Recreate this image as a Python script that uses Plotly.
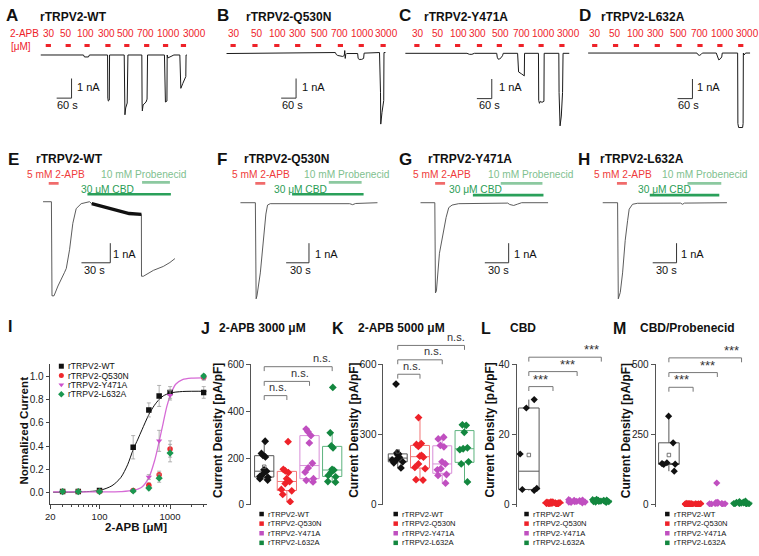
import numpy as np
import plotly.graph_objects as go

W, H = 759, 556
FONT = "Liberation Sans, Arial, sans-serif"

# ------------------------------------------------------------------ data
groups = ["rTRPV2-WT", "rTRPV2-Q530N", "rTRPV2-Y471A", "rTRPV2-L632A"]
conc_labels = ["30", "50", "100", "300", "500", "700", "1000", "3000"]

# A-D : 2-APB concentration series, time (s) / current (nA)
A_t = [24, 196, 200, 216, 220, 293, 294, 296, 300, 301, 360, 361, 363, 366, 372, 375,
       431, 432, 433, 436, 448, 452, 454, 522, 523, 526, 532, 533, 536, 544, 552, 560,
       584, 585, 588, 596, 604, 608, 609, 612]
A_i = [0, 0, -0.1, -0.1, 0, 0, -2.2, -2.35, -2.3, 0, 0, -2.45, -3.05, -2.7, -2.45, 0,
       0, -2.45, -2.85, -2.55, -2.4, -2.25, 0, 0, -2.2, -2.4, -2.35, 0, -0.15, -0.1, -0.05, 0,
       0, -1.45, -1.7, -1.45, -1.25, -1.1, 0, 0]
B_t = [32, 200, 400, 470, 474, 480, 500, 506, 508, 510, 512, 516, 560, 562, 566, 576, 584,
       586, 648, 652, 653, 658, 665, 666, 672]
B_i = [0, 0.03, 0.05, 0.05, -0.05, -0.1, -0.15, -0.1, 0.15, -0.25, -0.05, 0.0, 0.0, -0.25,
       -0.3, -0.3, -0.25, 0.02, 0.05, -2.0, -3.6, -3.0, -2.4, 0.05, 0.05]
C_t = [32, 280, 290, 300, 310, 400, 402, 406, 412, 418, 424, 426, 484, 485, 488, 500, 508,
       511, 512, 568, 569, 572, 576, 582, 590, 591, 650, 651, 655, 660, 665, 667, 692]
C_i = [0, 0, -0.05, -0.05, 0, 0, -0.2, -0.3, -0.28, -0.22, -0.1, 0, 0, -0.9, -0.95, -1.05,
       -1.12, -1.15, 0, 0, -2.4, -2.55, -2.45, -2.5, -2.45, 0, 0, -2.0, -3.7, -3.2, -2.0, 0, 0]
D_t = [28, 466, 470, 476, 482, 488, 544, 548, 554, 560, 566, 568, 630, 631, 634, 650, 652,
       653, 656, 662, 680]
D_i = [0, 0, -0.08, -0.12, -0.08, 0, 0, -0.2, -0.35, -0.3, -0.2, 0, 0, -3.6, -3.8, -3.8,
       -3.6, 0, -0.1, 0, 0]
# application start times (s) of the 8 concentrations
A_app = [44, 124, 200, 284, 360, 440, 516, 588]
B_app = [48, 136, 224, 308, 392, 480, 564, 652]
C_app = [68, 152, 232, 320, 400, 488, 568, 652]
D_app = [44, 128, 212, 296, 384, 468, 548, 632]
APP_DUR = 21

# E-H : 2-APB / CBD / probenecid, time (s) / current (nA)
E_t = [8.6, 17.3, 17.9, 20.0, 24.1, 29.3, 31.0, 32.8, 36.2, 39.6, 43.1, 48.3, 53.5, 56.9,
       59.3, 67.2, 77.6, 87.9, 98.3, 111.0, 111.1, 113.1, 116.6, 123.5, 133.8, 140.7, 145.9]
E_i = [0, 0, -4.8, -4.8, -4.3, -3.7, -3.6, -3.4, -2.45, -1.1, -0.35, -0.1, -0.05, 0.0,
       -0.1, -0.2, -0.35, -0.48, -0.6, -0.65, -3.8, -3.8, -3.7, -3.5, -3.3, -3.1, -2.9]
E_noisy = slice(14, 20)
F_t = [28.7, 48.3, 49.3, 50.4, 54.8, 59.1, 62.1, 64.3, 67.8, 172.1, 176.0, 180.0, 208.6]
F_i = [0, 0, -4.9, -4.75, -3.58, -1.9, -0.58, -0.12, -0.05, -0.05, -0.1, -0.04, 0]
G_t = [29.1, 47.1, 47.9, 49.1, 52.9, 56.3, 58.3, 61.3, 64.6, 68.8, 77.1, 138.8, 141.3,
       146.3, 151.3, 156.3, 189.6]
G_i = [0, 0, -4.6, -4.5, -2.58, -1.75, -1.33, -0.75, -0.25, -0.12, -0.05, -0.02, -0.09,
       -0.14, -0.07, 0, 0]
H_t = [27.1, 45.8, 46.7, 49.2, 52.1, 55.4, 58.4, 60.4, 64.6, 70.8, 125, 127.5, 130, 183.4]
H_i = [0, 0, -4.9, -4.58, -3.58, -1.92, -0.92, -0.33, -0.08, -0.03, -0.02, -0.08, -0.02, 0]
# application periods (start, end) in s
E_apb, E_cbd, E_prb = (14.5, 24.8), (54.8, 141.7), (111.7, 140.7)
F_apb, F_cbd, F_prb = (48.2, 61.3), (96.5, 190.4), (144.7, 187.8)
G_apb, G_cbd, G_prb = (47.5, 60.0), (95.0, 183.8), (130.0, 182.5)
H_apb, H_cbd, H_prb = (45.0, 57.5), (86.3, 173.8), (133.8, 176.3)

# I : dose response
dr_conc = [30, 50, 100, 300, 500, 700, 1000, 3000]
dr_WT = [0.01, 0.01, 0.02, 0.39, 0.71, 0.83, 0.86, 0.86]
dr_WT_err = [0.004, 0.004, 0.005, 0.10, 0.06, 0.09, 0.05, 0.05]
dr_Q = [0.01, 0.01, 0.01, 0.02, 0.065, 0.155, 0.375, 0.99]
dr_Q_err = [0.003, 0.003, 0.003, 0.005, 0.02, 0.03, 0.07, 0.02]
dr_Y = [0.01, 0.01, 0.01, 0.02, 0.135, 0.445, 0.835, 0.985]
dr_Y_err = [0.003, 0.003, 0.003, 0.006, 0.02, 0.09, 0.04, 0.02]
dr_L = [0.01, 0.01, 0.01, 0.015, 0.04, 0.125, 0.34, 1.0]
dr_L_err = [0.003, 0.003, 0.003, 0.004, 0.015, 0.035, 0.075, 0.015]
fit_WT_x = [22, 50, 100, 150, 200, 250, 300, 350, 400, 500, 600, 700, 800, 1000, 1500, 3300]
fit_WT_y = [0.005, 0.007, 0.02, 0.06, 0.13, 0.24, 0.37, 0.46, 0.54, 0.67, 0.75, 0.80, 0.83,
            0.855, 0.868, 0.87]
fit_Y_x = [22, 100, 200, 300, 400, 500, 600, 700, 800, 900, 1000, 1200, 1500, 2000, 3300]
fit_Y_y = [0.008, 0.008, 0.01, 0.02, 0.05, 0.13, 0.27, 0.44, 0.60, 0.74, 0.83, 0.93, 0.97,
           0.983, 0.985]

# J-M : current density (pA/pF)
J_vals = [[272, 220, 212, 205, 150, 144, 132, 122, 118, 112, 106],
          [270, 152, 145, 138, 112, 100, 91, 66, 60, 45, 14],
          [324, 312, 296, 265, 178, 158, 140, 112, 105, 98],
          [502, 308, 252, 244, 152, 149, 140, 126, 120, 100, 97]]
K_vals = [[516, 222, 218, 214, 204, 196, 192, 184, 180, 158],
          [373, 262, 258, 250, 212, 208, 204, 175, 160, 155, 108, 106],
          [289, 282, 254, 248, 184, 175, 155, 150, 130, 126, 93],
          [342, 340, 310, 244, 240, 236, 184, 175, 98]]
L_vals = [[30.0, 27.6, 14.5, 4.7, 4.4, 4.1],
          [0.3, 0.5, 0.8, 0.6, 0.4, 0.7, 0.9, 0.5, 0.3, 0.6, 0.8, 0.4, 0.5, 0.7, 0.2, 0.6,
           0.9, 0.4, 0.5, 0.6],
          [0.6, 0.9, 1.2, 0.8, 1.0, 1.4, 0.7, 1.1, 1.3, 0.9, 1.5, 0.8, 1.0, 1.2],
          [0.9, 1.2, 1.4, 1.1, 0.8, 1.3, 1.0, 1.5, 1.2, 0.9, 1.1, 1.3, 1.0, 0.7, 1.6]]
M_vals = [[316, 221, 150, 147, 145, 144, 120],
          [2, 4, 3, 5, 1, 3, 6, 2, 4, 3, 5, 2, 4, 3, 1, 5, 2, 4],
          [3, 5, 8, 4, 6, 78, 5, 7, 4, 6, 3, 9],
          [3, 5, 8, 6, 10, 4, 7, 12, 5, 6, 9, 14, 4]]

# ------------------------------------------------------------------ style
RED = "#ee2229"
PT_COL = ["#111111", "#ee2229", "#c04fc0", "#13873f"]
BOX_COL = ["#555555", "#f27676", "#d88ed8", "#5db37e"]
I_COL = ["#111111", "#f0282d", "#cc4fcc", "#1a9850"]
I_SYM = ["square", "circle", "triangle-down", "diamond"]
TXT_APB = "#ef3b3b"
TXT_PRB = "#7fbf8f"
TXT_CBD = "#2a9d55"
BAR_APB = "#f06b6b"
BAR_PRB = "#8cc9a0"
BAR_CBD = "#2aa05a"


def pxx(x):
    return x / W


def pxy(y):
    return 1 - y / H


fig = go.Figure()
layout = {}
shapes = []
annotations = []


def ax(n, xd, yd, xr, yr, xtype="linear"):
    s = "" if n == 1 else str(n)
    layout["xaxis" + s] = dict(domain=[pxx(xd[0]), pxx(xd[1])], range=xr, anchor="y" + s,
                               visible=False, type=xtype, showgrid=False, zeroline=False)
    layout["yaxis" + s] = dict(domain=[pxy(yd[1]), pxy(yd[0])], range=yr, anchor="x" + s,
                               visible=False, showgrid=False, zeroline=False)
    return ("x" + s, "y" + s)


def text(s, x, y, size, color="#111", bold=False, xa="left", ya="middle", angle=0, fam=FONT):
    if bold:
        s = "<b>" + s + "</b>"
    annotations.append(dict(text=s, x=pxx(x), y=pxy(y), xref="paper", yref="paper",
                            xanchor=xa, yanchor=ya, showarrow=False, textangle=angle,
                            font=dict(size=size, color=color, family=fam)))


# ------------------------------------------------------------------ row 1 (A-D)
row1 = [
    (A_t, A_i, A_app, (30, 205), 51.0, 4.0, "A", "rTRPV2-WT", 7.5, 33,
     [44, 61, 81.5, 102.5, 121.5, 141.5, 165, 191], (148, -2.2), 70, 62.8),
    (B_t, B_i, B_app, (215, 395), 49.5, 4.0, "B", "rTRPV2-Q530N", 219, 240.5,
     [230.5, 253.5, 274, 294, 316.5, 336.5, 359.5, 384.5], (312, -2.275), 296.7, 289.5),
    (C_t, C_i, C_app, (395, 575), 49.3, 4.0, "C", "rTRPV2-Y471A", 402.5, 419.3,
     [416, 436, 456.5, 475.5, 498.5, 519.5, 542.5, 567.5], (380, -2.31), 495, 488),
    (D_t, D_i, D_app, (580, 758), 49.0, 4.0, "D", "rTRPV2-L632A", 584, 598.3,
     [594, 614.5, 635, 655, 678, 699, 722, 747], (448, -2.325), 695, 688),
]
SB1_T, SB2_T, SB_I = 60, 30, 1
for k, (tt, ii, app, xd, base, spp, let, ttl, lx, tx, labx, sb, nax, sx) in enumerate(row1):
    top, bot = 25, 128
    xa, ya = ax(k + 1, xd, (top, bot), [0, (xd[1] - xd[0]) * spp],
                [-(bot - base) / 20, (base - top) / 20])
    fig.add_trace(go.Scatter(x=tt, y=ii, mode="lines", xaxis=xa, yaxis=ya,
                             line=dict(color="#1a1a1a", width=1)))
    for s0 in app:
        shapes.append(dict(type="line", xref=xa, yref="paper", x0=s0, x1=s0 + APP_DUR,
                           y0=pxy(41.3), y1=pxy(41.3), line=dict(color=RED, width=3.2)))
    ct, ci = sb
    fig.add_trace(go.Scatter(x=[ct - SB1_T, ct, ct], y=[ci, ci, ci + SB_I], mode="lines",
                             xaxis=xa, yaxis=ya, line=dict(color="#333", width=1)))
    text(let, lx, 11, 17, "#111", True, "center")
    text(ttl, tx, 12.5, 12, "#111", True)
    for lab, x in zip(conc_labels, labx):
        text(lab, x, 29.3, 10, RED, False, "center")
    text("1 nA", nax, 83.3, 11)
    text("60 s", sx, 101.7, 11, "#111", False, "center")
text("2-APB", 3.3, 29.3, 10, RED)
text("[μM]", 4, 42, 10, RED)

# ------------------------------------------------------------------ row 2 (E-H)
row2 = [
    (E_t, E_i, (E_apb, E_cbd, E_prb), (30, 190), 200.7, 30 / 29, "E", "rTRPV2-WT", 9, 29.3,
     (51, 140, 103.5), (78.6, -3.115), 107, 90.5, (182, 181, 193)),
    (F_t, F_i, (F_apb, F_cbd, F_prb), (215, 385), 201.7, 30 / 23, "F", "rTRPV2-Q530N", 218.7,
     238.3, (257.5, 344.5, 297), (118.7, -3.065), 310, 297, (182, 181, 193)),
    (G_t, G_i, (G_apb, G_cbd, G_prb), (395, 575), 201.7, 30 / 24, "G", "rTRPV2-Y471A", 403,
     423.3, (440, 529.5, 474), (140, -3.065), 510, 496.7, (182, 182, 194)),
    (H_t, H_i, (H_apb, H_cbd, H_prb), (580, 759), 201.7, 30 / 24, "H", "rTRPV2-L632A", 582.5,
     596.7, (622.5, 704.5, 663.5), (120, -3.065), 678, 666, (182, 182, 194)),
]
for k, (tt, ii, per, xd, base, spp, let, ttl, lx, tx, labx, sb, nax, sx, bary) in enumerate(row2):
    top, bot = 165, 305
    xa, ya = ax(k + 5, xd, (top, bot), [0, (xd[1] - xd[0]) * spp],
                [-(bot - base) / 20, (base - top) / 20])
    fig.add_trace(go.Scatter(x=tt, y=ii, mode="lines", xaxis=xa, yaxis=ya,
                             line=dict(color="#4a4a4a", width=0.9)))
    if k == 0:
        fig.add_trace(go.Scatter(x=tt[E_noisy], y=ii[E_noisy], mode="lines", xaxis=xa,
                                 yaxis=ya, line=dict(color="#111", width=3.3)))
    for (p0, p1), col, yb in zip(per, (BAR_APB, BAR_CBD, BAR_PRB), (bary[0], bary[2], bary[1])):
        shapes.append(dict(type="line", xref=xa, yref="paper", x0=p0, x1=p1,
                           y0=pxy(yb), y1=pxy(yb), line=dict(color=col, width=2.6)))
    ct, ci = sb
    fig.add_trace(go.Scatter(x=[ct - SB2_T, ct, ct], y=[ci, ci, ci + SB_I], mode="lines",
                             xaxis=xa, yaxis=ya, line=dict(color="#333", width=1)))
    text(let, lx, 157.5, 17, "#111", True, "center")
    text(ttl, tx, 157.5, 12, "#111", True)
    text("5 mM 2-APB", labx[0], 173.3, 10.2, TXT_APB, False, "center")
    text("10 mM Probenecid", labx[1], 173.3, 10.2, TXT_PRB, False, "center")
    text("30 μM CBD", labx[2], 188.3, 10.2, TXT_CBD, False, "center")
    text("1 nA", nax, 254.5, 11)
    text("30 s", sx, 270.5, 11, "#111", False, "center")

# ------------------------------------------------------------------ I (dose response)
xa, ya = ax(9, (45.5, 203), (366.7, 509.5), [np.log10(20), np.log10(3300)], [-0.1, 1.1], "log")
axstyle = dict(visible=True, showline=True, linecolor="#444", linewidth=1, ticks="outside",
               ticklen=3.5, tickcolor="#444", tickfont=dict(size=10, family=FONT, color="#222"))
layout["xaxis9"].update(axstyle)
layout["xaxis9"].update(tickvals=[20, 100, 1000], ticktext=["20", "100", "1000"],
                        tickfont=dict(size=9.5, family=FONT, color="#222"),
                        minor=dict(tickvals=[30, 40, 50, 60, 70, 80, 90, 200, 300, 400, 500,
                                             600, 700, 800, 900, 2000, 3000],
                                   ticks="outside", ticklen=2, tickcolor="#444"))
layout["yaxis9"].update(axstyle)
layout["yaxis9"].update(tickvals=[0, 0.2, 0.4, 0.6, 0.8, 1.0],
                        ticktext=["0.0", "0.2", "0.4", "0.6", "0.8", "1.0"])
fig.add_trace(go.Scatter(x=fit_WT_x, y=fit_WT_y, mode="lines", xaxis=xa, yaxis=ya,
                         line=dict(color="#111", width=1, shape="spline", smoothing=0.8)))
fig.add_trace(go.Scatter(x=fit_Y_x, y=fit_Y_y, mode="lines", xaxis=xa, yaxis=ya,
                         line=dict(color="#d66bd6", width=1.3, shape="spline", smoothing=0.8)))
for yv, ev, col, sym in zip([dr_WT, dr_Q, dr_Y, dr_L], [dr_WT_err, dr_Q_err, dr_Y_err, dr_L_err],
                            I_COL, I_SYM):
    fig.add_trace(go.Scatter(x=dr_conc, y=yv, mode="markers", xaxis=xa, yaxis=ya,
                             error_y=dict(type="data", array=ev, color="#a0a0a0",
                                          thickness=0.8, width=2),
                             marker=dict(color=col, symbol=sym, size=5.5, line=dict(width=0))))
text("I", 5.5, 327.5, 16, "#111", True, "center")
text("Normalized Current", 18.3, 434, 11.6, "#111", True, "center", "middle", -90)
text("2-APB [μM]", 131.7, 533, 11.5, "#111", True, "center")

# legend overlay axis (pixel space for legend keys)
layout["xaxis14"] = dict(domain=[0, 1], range=[0, W], anchor="y14", visible=False)
layout["yaxis14"] = dict(domain=[0, 1], range=[H, 0], anchor="x14", visible=False)
for r, (g, col, sym) in enumerate(zip(groups, I_COL, I_SYM)):
    yy = 368.5 + r * 9.5
    fig.add_trace(go.Scatter(x=[56.7], y=[yy], mode="markers", xaxis="x14", yaxis="y14",
                             marker=dict(color=col, symbol=sym, size=5, line=dict(width=0))))
    text(g, 61, yy, 8.6, "#111")

# ------------------------------------------------------------------ J-M box charts
box_panels = [
    (J_vals, 10, (247.7, 342), [-0.58, 3.555], [0, 600], [0, 200, 400, 600], "linear",
     "J", 202, "2-APB 3000 μM", 213.3, 215, 258.3,
     [(398.5, 275), (384, 297), (369, 319)], "n.s.", 11, 6, 0.7),
    (K_vals, 11, (381, 476), [-0.64, 3.6], [0, 600], [0, 300, 600], "linear",
     "K", 335.5, "2-APB 5000 μM", 353.3, 351.7, 393.3,
     [(376.7, 409.3), (362, 431), (347.3, 454)], "n.s.", 11, 6, 0.7),
    (L_vals, 12, (515, 618), [-0.506, 3.73], [-0.56, 40], [0, 20, 40], "exclusive",
     "L", 484, "CBD", 506.7, 488.3, 525,
     [(389.3, 539.5), (374, 566), (359.3, 590)], "***", 13, 5.5, 1.0),
    (M_vals, 13, (655, 759), [-0.545, 3.72], [-7, 500], [0, 250, 500], "exclusive",
     "M", 619, "CBD/Probenecid", 636.7, 626, 666.7,
     [(390, 680.7), (375, 706.7), (360, 731)], "***", 13, 5.5, 1.0),
]
for (vals, n, xd, xr, yr, tv, qm, let, lx, ttl, tx, ytx, legx, brk, sig, sigsz, msz,
     jit) in box_panels:
    ybot = 510 + (0 - yr[0]) / (yr[1] - 0) * 143.3
    xa, ya = ax(n, xd, (366.7, ybot), xr, yr)
    layout["yaxis" + str(n)].update(
        visible=True, showline=True, linecolor="#555", linewidth=1, ticks="outside",
        ticklen=4, tickcolor="#555", tickvals=tv,
        tickfont=dict(size=10, family=FONT, color="#222"))
    for gi, v in enumerate(vals):
        small = (n in (12, 13)) and gi > 0
        fig.add_trace(go.Box(
            y=v, x=[gi] * len(v), xaxis=xa, yaxis=ya, boxpoints="all",
            jitter=(1.0 if small else jit), pointpos=0, width=0.85,
            fillcolor="rgba(0,0,0,0)", line=dict(color=BOX_COL[gi], width=1),
            marker=dict(color=PT_COL[gi], symbol="diamond", size=(5.5 if small else msz),
                        line=dict(width=0)),
            whiskerwidth=0, quartilemethod=qm, hoverinfo="skip"))
        if gi == 0:
            fig.add_trace(go.Scatter(x=[gi], y=[np.mean(v)], mode="markers", xaxis=xa, yaxis=ya,
                                     marker=dict(symbol="square-open", size=3.5,
                                                 color=BOX_COL[gi], line=dict(width=0.8))))
    # significance brackets, WT vs each mutant
    for j, (by, tcx) in enumerate(brk):
        y0, y1 = pxy(by + 4.5), pxy(by)
        shapes.append(dict(type="path", xref=xa, yref="paper",
                           path=f"M 0,{y0} L 0,{y1} L {j + 1},{y1} L {j + 1},{y0}",
                           line=dict(color="#777", width=1)))
        text(sig, tcx, by - 0.5 + (2.5 if sig != "n.s." else 0), sigsz, "#333", False,
             "center", "bottom")
    text(let, lx, 330, 16, "#111", True, "center")
    text(ttl, tx, 330, 12, "#111", True)
    text("Current Density [pA/pF]", ytx, 434, 12, "#111", True, "center", "middle", -90)
    for r, (g, col) in enumerate(zip(groups, PT_COL)):
        yy = 519.3 + r * 9.8
        fig.add_trace(go.Scatter(x=[legx], y=[yy], mode="markers", xaxis="x14", yaxis="y14",
                                 marker=dict(color=col, symbol="square", size=4.5,
                                             line=dict(width=0))))
        text(g, legx + 4.5, yy, 7.6, "#111")

fig.update_layout(width=W, height=H, margin=dict(l=0, r=0, t=0, b=0),
                  paper_bgcolor="white", plot_bgcolor="rgba(0,0,0,0)", showlegend=False,
                  boxmode="overlay", hovermode=False, shapes=shapes,
                  annotations=annotations, font=dict(family=FONT), **layout)
fig.write_html("out.html")
